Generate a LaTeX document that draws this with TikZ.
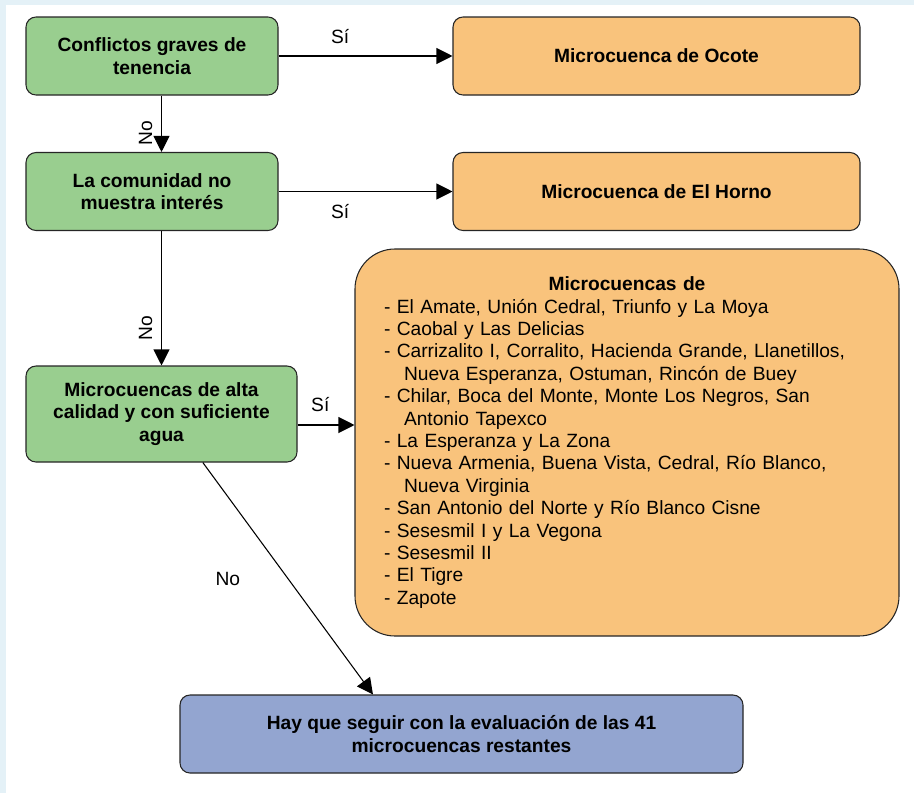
\documentclass[tikz,border=0pt]{standalone}
\usepackage{fontspec}
\setmainfont{Liberation Sans}
\usepackage{xcolor}
\usetikzlibrary{arrows.meta, positioning, calc}

\definecolor{verdeC}{HTML}{99CE8F}
\definecolor{naranjaC}{HTML}{F9C37C}
\definecolor{azulC}{HTML}{93A5D0}
\definecolor{fondoC}{HTML}{E4F1F7}
\newcommand{\letra}{\fontsize{14.4}{17}\selectfont}

\begin{document}
\begin{tikzpicture}[
    x=0.75pt, y=-0.75pt,
    every node/.style={font=\letra},
    caja/.style={rectangle, rounded corners=7.5pt, draw=black!85, line width=0.8pt, align=center, font=\letra\bfseries, inner sep=2pt},
    verde/.style={caja, fill=verdeC, minimum width=189pt, minimum height=58.5pt},
    naranja/.style={caja, fill=naranjaC, minimum width=305.25pt, minimum height=58.5pt},
    flecha/.style={-{Triangle[length=12pt, width=12pt]}, line width=0.8pt},
    lbl/.style={inner sep=1pt}
]
    % fondo
    \fill[fondoC] (0,0) rectangle (914,793);
    \fill[white] (6,5) rectangle (914,793);
    \useasboundingbox (0,0) rectangle (914,793);

    \node [verde] (c1) at (152, 56) {Conflictos graves de\\tenencia};
    \node [naranja] (ocote) at (656.5, 56) {Microcuenca de Ocote};
    \node [verde] (c2) at (152, 191.5) {La comunidad no\\muestra interés};
    \node [naranja] (horno) at (656.5, 191.5) {Microcuenca de El Horno};
    \node [verde, minimum width=203.25pt, minimum height=72pt] (c3) at (161.5, 414) {Microcuencas de alta\\calidad y con suficiente\\agua};

    \node [caja, fill=naranjaC, rounded corners=30pt, font=\fontsize{14.4}{16.8}\selectfont, align=left, text width=364.5pt,
           inner xsep=21.75pt, minimum height=290.25pt] (lista) at (627, 442.5)
        {\makebox[364.5pt]{\textbf{Microcuencas de}}\\
         - El Amate, Unión Cedral, Triunfo y La Moya\\
         - Caobal y Las Delicias\\
         - Carrizalito I, Corralito, Hacienda Grande, Llanetillos,\\
         \hspace*{15pt}Nueva Esperanza, Ostuman, Rincón de Buey\\
         - Chilar, Boca del Monte, Monte Los Negros, San\\
         \hspace*{15pt}Antonio Tapexco\\
         - La Esperanza y La Zona\\
         - Nueva Armenia, Buena Vista, Cedral, Río Blanco,\\
         \hspace*{15pt}Nueva Virginia\\
         - San Antonio del Norte y Río Blanco Cisne\\
         - Sesesmil I y La Vegona\\
         - Sesesmil II\\
         - El Tigre\\
         - Zapote};

    \node [caja, fill=azulC, minimum width=422.25pt, minimum height=58.5pt] (azul) at (461.5, 734)
        {Hay que seguir con la evaluación de las 41\\microcuencas restantes};

    \coordinate (p3) at ([yshift=-8.25pt]c3.east);

    \draw [flecha] (c1.east) -- node[lbl, pos=0.354, yshift=14.25pt] {Sí} (ocote.west);
    \draw [flecha] (c2.east) -- node[lbl, pos=0.354, yshift=-15pt] {Sí} (horno.west);
    \draw [flecha] (c1.south -| c3.north) -- node[lbl, pos=0.66, xshift=-12pt, rotate=90] {No} (c2.north -| c3.north);
    \draw [flecha] (c2.south -| c3.north) -- node[lbl, pos=0.72, xshift=-12pt, rotate=90] {No} (c3.north);
    \draw [flecha] (p3) -- node[lbl, pos=0.4, yshift=15pt] {Sí} (p3 -| lista.west);
    \draw [flecha] ([xshift=31pt]c3.south) -- node[lbl, pos=0.5, xshift=-45pt] {No} ([xshift=-66.4pt]azul.north);
\end{tikzpicture}
\end{document}
